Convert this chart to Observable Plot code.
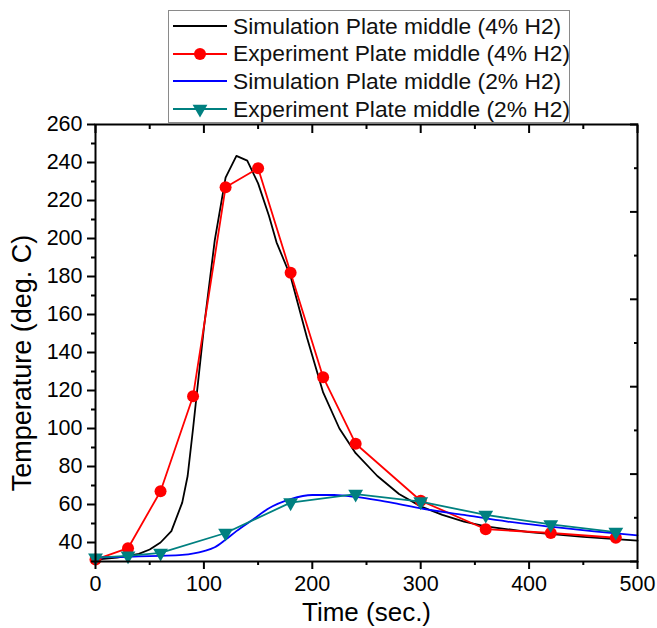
<!DOCTYPE html>
<html>
<head>
<meta charset="utf-8">
<script src="https://cdn.jsdelivr.net/npm/d3@7"></script>
<script src="https://cdn.jsdelivr.net/npm/@observablehq/plot@0.6"></script>
<style>
  html, body { margin: 0; padding: 0; background: white; }
  #wrap { position: relative; width: 657px; height: 628px; font-family: "Liberation Sans", Arial, sans-serif; }
  #legend { position: absolute; left: 168px; top: 10px; width: 402px; height: 113px; border: 1px solid #8a8a8a; background: white; box-sizing: border-box; }
  .row { position: absolute; left: 4px; height: 28px; display: flex; align-items: center; font-size: 22.8px; color: #111; white-space: nowrap; }
  .row svg { margin-right: 6px; }
</style>
</head>
<body>
<div id="wrap"></div>
<script>
// ---- data ----
const simTime4 = [0, 20, 40, 50, 60, 70, 80, 85, 90, 100, 110, 120, 130, 140, 150, 160, 167, 180, 195, 210, 225, 240, 260, 280, 300, 320, 340, 360, 400, 450, 500];
const simTemp4 = [31, 32, 34, 36.3, 40, 46, 61, 75, 100, 153, 199, 232, 243.5, 241, 229, 212, 198, 180, 148, 119, 100, 87, 75, 65.5, 59, 54.5, 51, 48.5, 45.5, 43, 41];

const expTime4 = [0, 30, 60, 90, 120, 150, 180, 210, 240, 300, 360, 420, 480];
const expTemp4 = [31, 37, 67, 117, 227, 237, 182, 127, 92, 62, 47, 45, 42.5];

const simTime2 = [0, 30, 60, 80, 100, 110, 120, 130, 145, 160, 180, 200, 220, 240, 260, 280, 300, 340, 380, 420, 460, 500];
const simTemp2 = [32, 32.5, 33, 33.5, 35.5, 37.5, 41.5, 46, 52, 58, 62.8, 65, 65, 64, 62.3, 60.2, 58, 54.5, 51, 48.3, 45.8, 43.7];

const expTime2 = [0, 30, 60, 120, 180, 240, 300, 360, 420, 480];
const expTemp2 = [32, 33, 34.5, 45, 61, 65.5, 61.5, 54.5, 49.5, 45.5];

const seriesNames = [
  "Simulation Plate middle (4% H2)",
  "Experiment Plate middle (4% H2)",
  "Simulation Plate middle (2% H2)",
  "Experiment Plate middle (2% H2)"
];
const seriesColors = ["#000000", "#ff0000", "#0000ff", "#008080"];

const xMajorTicks = [0, 100, 200, 300, 400, 500];
const xMinorTicks = [50, 150, 250, 350, 450];
const yMajorTicks = [40, 60, 80, 100, 120, 140, 160, 180, 200, 220, 240, 260];
const yMinorTicks = [30, 50, 70, 90, 110, 130, 150, 170, 190, 210, 230, 250];
// right-hand mirror axis has its own (unlabelled) spacing: 5 equal divisions of the frame
const rightDivisions = [0, 1, 2, 3, 4, 5];

const xLabel = "Time (sec.)";
const yLabel = "Temperature (deg. C)";

// ---- build tables ----
const zip = (t, v) => t.map((d, i) => ({t: d, v: v[i]}));
const sim4 = zip(simTime4, simTemp4);
const exp4 = zip(expTime4, expTemp4);
const sim2 = zip(simTime2, simTemp2);
const exp2 = zip(expTime2, expTemp2);

const yDomain = [30, 260];
const step = (yDomain[1] - yDomain[0]) / (rightDivisions.length - 1);
const rightMajor = rightDivisions.map(i => yDomain[0] + i * step);
const rightMinor = rightDivisions.slice(0, -1).map(i => yDomain[0] + (i + 0.5) * step);

const blank = () => "";
const sw = 1.8;
const tickFont = 21.5;
const chart = Plot.plot({
  width: 657,
  height: 628,
  marginLeft: 95,
  marginRight: 20,
  marginTop: 124,
  marginBottom: 67,
  x: {domain: [0, 500], axis: null},
  y: {domain: yDomain, axis: null},
  style: {fontFamily: "'Liberation Sans', Arial, sans-serif", color: "black", background: "white", overflow: "visible"},
  marks: [
    Plot.line(sim4, {x: "t", y: "v", stroke: seriesColors[0], strokeWidth: sw}),
    Plot.line(exp4, {x: "t", y: "v", stroke: seriesColors[1], strokeWidth: sw}),
    Plot.dot(exp4, {x: "t", y: "v", fill: seriesColors[1], r: 6, symbol: "circle"}),
    Plot.line(sim2, {x: "t", y: "v", stroke: seriesColors[2], strokeWidth: sw, curve: "monotone-x"}),
    Plot.line(exp2, {x: "t", y: "v", stroke: seriesColors[3], strokeWidth: sw}),
    Plot.dot(exp2, {x: "t", y: "v", fill: seriesColors[3], r: 5.5, symbol: "triangle", rotate: 180}),
    Plot.frame({stroke: "black", strokeWidth: 2}),
    // bottom axis
    Plot.axisX(xMajorTicks, {anchor: "bottom", tickSize: 8, tickPadding: 6, fontSize: tickFont, strokeWidth: 2, label: null, tickFormat: d => String(d)}),
    Plot.axisX(xMinorTicks, {anchor: "bottom", tickSize: 4, strokeWidth: 2, label: null, tickFormat: blank}),
    // top mirror (inward)
    Plot.axisX(xMajorTicks, {anchor: "top", tickSize: -8, strokeWidth: 2, label: null, tickFormat: blank}),
    Plot.axisX(xMinorTicks, {anchor: "top", tickSize: -4, strokeWidth: 2, label: null, tickFormat: blank}),
    // left axis
    Plot.axisY(yMajorTicks, {anchor: "left", tickSize: 8, tickPadding: 5, fontSize: tickFont, strokeWidth: 2, label: null, tickFormat: d => String(d)}),
    Plot.axisY(yMinorTicks, {anchor: "left", tickSize: 4, strokeWidth: 2, label: null, tickFormat: blank}),
    // right mirror (inward)
    Plot.axisY(rightMajor, {anchor: "right", tickSize: -8, strokeWidth: 2, label: null, tickFormat: blank}),
    Plot.axisY(rightMinor, {anchor: "right", tickSize: -4, strokeWidth: 2, label: null, tickFormat: blank}),
    // axis titles
    Plot.text([xLabel], {frameAnchor: "bottom", textAnchor: "middle", lineAnchor: "middle", dy: 51, fontSize: 26, fill: "black"}),
    Plot.text([yLabel], {frameAnchor: "left", textAnchor: "middle", lineAnchor: "middle", dx: -73, dy: 20, rotate: -90, fontSize: 27, fill: "black"})
  ]
});

const wrap = document.getElementById("wrap");
wrap.appendChild(chart);

// legend
const legend = document.createElement("div");
legend.id = "legend";
const rowTops = [0, 1, 2, 3];
seriesNames.forEach((name, i) => {
  const row = document.createElement("div");
  row.className = "row";
  row.style.top = (1 + rowTops[i] * 27.7) + "px";
  const svg = d3.create("svg").attr("width", 54).attr("height", 28);
  svg.append("line").attr("x1", 0).attr("x2", 54).attr("y1", 14).attr("y2", 14)
    .attr("stroke", seriesColors[i]).attr("stroke-width", 2);
  if (i === 1) svg.append("circle").attr("cx", 27).attr("cy", 14).attr("r", 6).attr("fill", seriesColors[i]);
  if (i === 3) svg.append("path").attr("d", d3.symbol(d3.symbolTriangle, Math.PI * 5.5 * 5.5)())
    .attr("transform", "translate(27,14) rotate(180)").attr("fill", seriesColors[i]);
  row.appendChild(svg.node());
  const span = document.createElement("span");
  span.textContent = name;
  row.appendChild(span);
  legend.appendChild(row);
});
wrap.appendChild(legend);
</script>
</body>
</html>
